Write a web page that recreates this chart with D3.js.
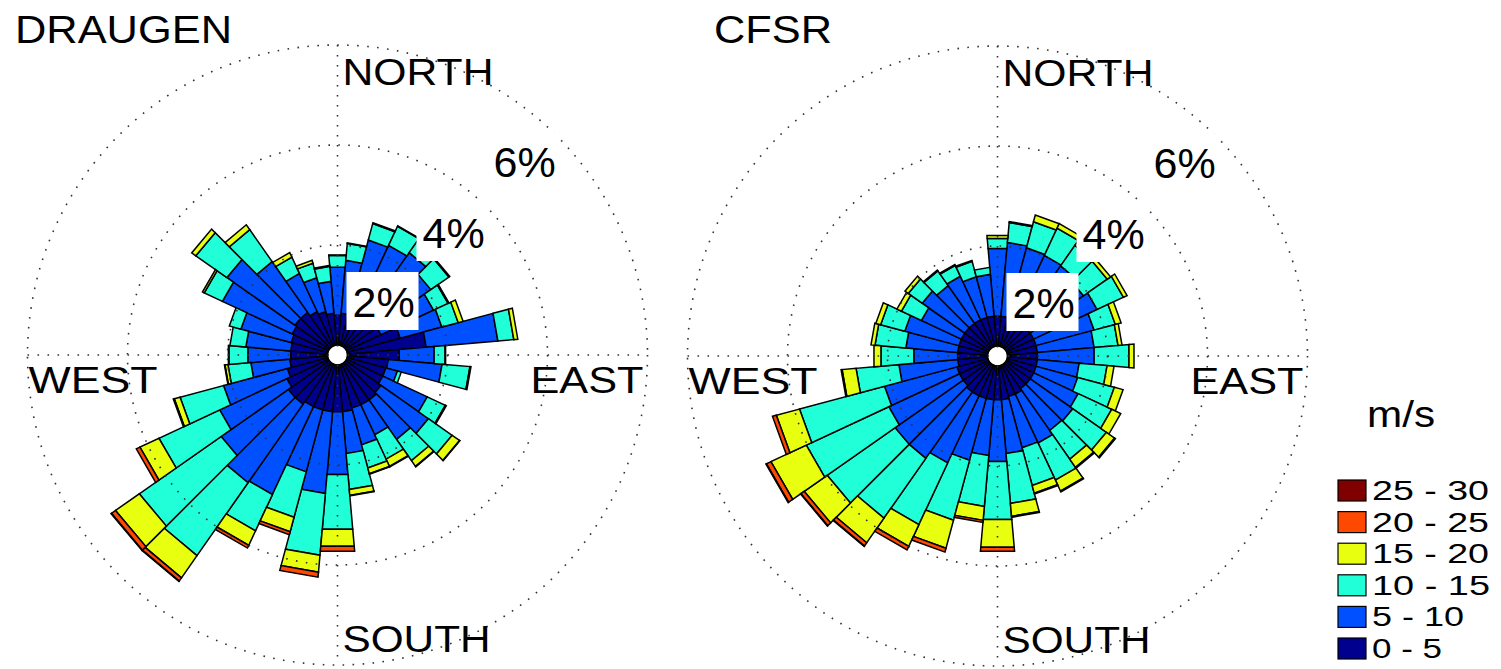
<!DOCTYPE html>
<html>
<head>
<meta charset="utf-8">
<script src="https://cdn.jsdelivr.net/npm/d3@7"></script>
<style>
  body { margin: 0; background: #fff; }
  svg { display: block; }
  text { font-family: "Liberation Sans", Arial, sans-serif; fill: #000; }
</style>
</head>
<body>
<svg id="chart" width="1501" height="669"></svg>
<script>
// Direction sectors (degrees clockwise from north), 10° wide
const directions = d3.range(0, 360, 10);

// Speed classes (m/s) and their colours
const speedClasses = ["0 - 5", "5 - 10", "10 - 15", "15 - 20", "20 - 25", "25 - 30"];
const classColors = ["#00008f", "#0050ff", "#20ffd8", "#e8ff10", "#ff4800", "#800000"];
const legendTextWidths = [70, 92, 118, 117, 117, 117];

// Ring values (% of time)
const ringValues = [2, 4, 6];
const ringLabels = ["2%", "4%", "6%"];
const compassLabels = ["NORTH", "EAST", "SOUTH", "WEST"];

// DRAUGEN frequencies (%) per direction for each speed class
const draugen0_5   = [0.60,0.64,0.70,0.70,0.72,0.72,0.76,1.10,1.58,1.04,0.82,0.80,0.80,0.86,0.90,0.90,0.90,0.94,0.94,0.94,0.94,0.94,1.00,1.00,0.92,0.84,0.76,0.74,0.74,0.76,0.80,0.84,0.84,0.76,0.70,0.64];
const draugen5_10  = [0.96,1.06,1.48,1.52,1.58,1.36,1.16,0.86,1.44,0.70,1.08,0.24,0.98,1.16,0.96,0.66,0.76,0.84,1.26,1.64,1.28,1.94,1.92,1.64,1.48,1.32,0.78,0.86,0.90,1.04,1.54,1.66,1.24,0.84,0.70,0.64];
const draugen10_15 = [0.24,0.34,0.34,0.42,0.30,0.44,0.32,0.34,0.32,0.22,0.56,0.08,0.40,0.58,0.52,0.54,0.48,0.72,1.10,1.24,0.94,0.80,1.78,2.00,1.34,0.90,0.46,0.38,0.32,0.24,0.40,0.76,0.78,0.36,0.30,0.30];
const draugen15_20 = [0.01,0.01,0.02,0.01,0.02,0.02,0.02,0.10,0.08,0.01,0.02,0.00,0.02,0.18,0.14,0.16,0.12,0.12,0.34,0.34,0.30,0.32,0.54,0.58,0.42,0.12,0.06,0.01,0.00,0.00,0.04,0.10,0.12,0.10,0.06,0.02];
const draugen20_25 = [0,0,0,0,0,0,0,0,0,0,0,0,0,0.01,0.01,0.01,0.01,0.01,0.10,0.10,0.06,0.06,0.08,0.10,0.08,0.02,0.01,0,0,0,0,0,0,0,0,0];
const draugen25_30 = [0,0,0,0,0,0,0,0,0,0,0,0,0,0,0,0,0,0,0,0,0,0,0.01,0.01,0,0,0,0,0,0,0,0,0,0,0,0];

// CFSR frequencies (%) per direction for each speed class
const cfsr0_5   = [0.60,0.60,0.60,0.60,0.60,0.60,0.60,0.60,0.60,0.60,0.60,0.60,0.60,0.60,0.60,0.64,0.64,0.68,0.68,0.68,0.68,0.68,0.68,0.64,0.64,0.64,0.60,0.60,0.60,0.60,0.60,0.60,0.60,0.60,0.60,0.60];
const cfsr5_10  = [1.36,1.48,1.44,1.42,1.40,1.30,1.40,1.20,1.14,1.14,0.84,0.86,0.98,1.04,1.02,1.08,1.06,1.08,1.24,1.12,1.28,1.48,1.62,1.66,1.56,1.50,1.18,0.88,1.04,1.12,0.88,1.04,0.92,0.96,0.84,0.84];
const cfsr10_15 = [0.20,0.40,0.54,0.60,0.50,0.58,0.58,0.44,0.48,0.70,0.56,0.76,0.74,0.82,0.70,0.82,0.78,1.00,1.16,1.02,1.24,1.36,1.46,1.66,1.82,1.76,0.86,0.66,0.62,0.50,0.44,0.34,0.36,0.24,0.32,0.14];
const cfsr15_20 = [0.06,0.02,0.14,0.10,0.10,0.08,0.08,0.12,0.08,0.10,0.14,0.18,0.20,0.20,0.20,0.24,0.16,0.26,0.56,0.28,0.58,0.48,0.60,0.56,0.78,0.48,0.28,0.14,0.08,0.10,0.10,0.08,0.02,0.02,0.02,0.00];
const cfsr20_25 = [0,0,0,0,0,0,0,0,0,0,0,0,0,0.02,0.02,0.02,0.02,0.02,0.08,0.04,0.08,0.08,0.08,0.08,0.10,0.08,0.02,0,0,0,0,0,0,0,0,0];
const cfsr25_30 = [0,0,0,0,0,0,0,0,0,0,0,0,0,0,0,0,0,0,0,0,0,0,0.01,0.01,0.01,0,0,0,0,0,0,0,0,0,0,0];

const roses = [
  { title: "DRAUGEN", cx: 337.5, cy: 355, titleX: 15, titleW: 217,
    classes: [draugen0_5, draugen5_10, draugen10_15, draugen15_20, draugen20_25, draugen25_30] },
  { title: "CFSR", cx: 997.5, cy: 356, titleX: 714, titleW: 118,
    classes: [cfsr0_5, cfsr5_10, cfsr10_15, cfsr15_20, cfsr20_25, cfsr25_30] }
];

const svg = d3.select("#chart");
const rScale = d3.scaleLinear().domain([0, 6]).range([10, 310]);
const halfWidth = 5 * Math.PI / 180;
const rad = d => d * Math.PI / 180;
const polar = (r, a) => [r * Math.sin(a), -r * Math.cos(a)];

function sectorPath(r0, r1, a) {
  const pts = [polar(r0, a - halfWidth), polar(r1, a - halfWidth),
               polar(r1, a + halfWidth), polar(r0, a + halfWidth)];
  return d3.line()(pts) + "Z";
}

const keys = speedClasses.map((_, i) => "c" + i);

roses.forEach(rose => {
  const g = svg.append("g").attr("transform", `translate(${rose.cx},${rose.cy})`);

  // stacked speed classes per direction
  const rows = directions.map((dir, i) => {
    const row = { dir };
    rose.classes.forEach((arr, k) => { row["c" + k] = arr[i]; });
    return row;
  });
  const layers = d3.stack().keys(keys)(rows);

  const bars = g.append("g").attr("class", "bars");
  layers.forEach((layer, k) => {
    bars.selectAll(null)
      .data(layer.filter(d => d[1] - d[0] > 0))
      .join("path")
      .attr("d", d => sectorPath(rScale(d[0]), rScale(d[1]), rad(d.data.dir)))
      .attr("fill", classColors[k])
      .attr("stroke", "#000")
      .attr("stroke-width", 1.5)
      .attr("stroke-linejoin", "miter");
  });

  // dotted grid: rings and compass axes
  const grid = g.append("g").attr("fill", "none").attr("stroke", "#333")
    .attr("stroke-width", 1.6).attr("stroke-dasharray", "1.6 8.4");
  grid.selectAll("circle").data(ringValues).join("circle")
    .attr("r", d => rScale(d));
  const rMax = rScale(6);
  grid.append("line").attr("x1", -rMax).attr("x2", rMax).attr("y1", 0).attr("y2", 0);
  grid.append("line").attr("x1", 0).attr("x2", 0).attr("y1", -rMax).attr("y2", rMax);

  // centre hole
  g.append("circle").attr("r", 8).attr("fill", "#fff");

  // ring labels with white boxes
  const ringBoxes = [
    { x: 9,   y: -83,  tx: 15,  ty: -38 },
    { x: 79,  y: -152, tx: 85,  ty: -107 },
    { x: 150, y: -222, tx: 156, ty: -178 }
  ];
  ringLabels.forEach((lab, i) => {
    const b = ringBoxes[i];
    g.append("rect").attr("x", b.x).attr("y", b.y).attr("width", 72).attr("height", 58).attr("fill", "#fff");
    g.append("text").attr("x", b.tx).attr("y", b.ty).attr("font-size", 43).text(lab);
  });

  // compass labels
  const compass = [
    { t: compassLabels[0], x: 5,    y: -270, w: 151 },
    { t: compassLabels[1], x: 193,  y: 38,   w: 113 },
    { t: compassLabels[2], x: 5,    y: 297,  w: 148 },
    { t: compassLabels[3], x: -309, y: 38,   w: 129 }
  ];
  compass.forEach(c => {
    g.append("text").attr("x", c.x).attr("y", c.y).attr("font-size", 37)
      .attr("textLength", c.w).attr("lengthAdjust", "spacingAndGlyphs").text(c.t);
  });

  // title
  svg.append("text").attr("x", rose.titleX).attr("y", 43).attr("font-size", 38)
    .attr("textLength", rose.titleW).attr("lengthAdjust", "spacingAndGlyphs").text(rose.title);
});

// legend
const legend = svg.append("g").attr("transform", "translate(1338,0)");
legend.append("text").attr("x", 29).attr("y", 427).attr("font-size", 36)
  .attr("textLength", 68).attr("lengthAdjust", "spacingAndGlyphs").text("m/s");
const legendRows = speedClasses.map((s, i) => ({ label: s, color: classColors[i], w: legendTextWidths[i] })).reverse();
const legendY = d3.scalePoint().domain(legendRows.map(d => d.label)).range([480, 638]);
legend.selectAll("rect").data(legendRows).join("rect")
  .attr("x", 0).attr("y", d => legendY(d.label)).attr("width", 28).attr("height", 21)
  .attr("fill", d => d.color).attr("stroke", "#000").attr("stroke-width", 1.2);
legend.selectAll("text.lab").data(legendRows).join("text").attr("class", "lab")
  .attr("x", 34).attr("y", d => legendY(d.label) + 20).attr("font-size", 27)
  .attr("textLength", d => d.w).attr("lengthAdjust", "spacingAndGlyphs")
  .text(d => d.label);
</script>
</body>
</html>
